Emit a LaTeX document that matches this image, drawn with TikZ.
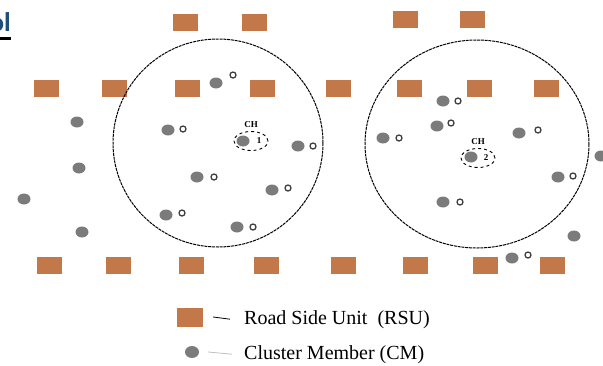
\documentclass[tikz,border=0pt]{standalone}
\usepackage{fontspec}
\setmainfont{Liberation Serif}
\newfontfamily\headfont{Carlito}
\usetikzlibrary{calc, positioning, shapes.geometric}
\definecolor{rsucol}{HTML}{C27849}
\definecolor{membercol}{HTML}{7B7B7B}
\definecolor{headblue}{HTML}{1F4E79}

\tikzset{
  rsu/.style={rectangle, fill=rsucol, minimum width=25pt, minimum height=17pt, inner sep=0pt},
  member/.style={ellipse, fill=membercol, minimum width=13pt, minimum height=11pt, inner sep=0pt},
  tag/.style={circle, draw=black!75, line width=1.3pt, minimum size=6pt, inner sep=0pt},
  cluster/.style={draw, line width=1pt, dash pattern=on 3pt off 0.8pt},
  chring/.style={ellipse, draw, dashed, line width=0.9pt, minimum width=34pt, minimum height=19pt, inner sep=0pt},
  chtext/.style={font=\small\bfseries, inner sep=0pt},
  keytext/.style={font=\fontsize{20}{24}\selectfont, inner sep=0pt, anchor=base west},
}

\begin{document}
\begin{tikzpicture}[x=1pt, y=-1pt]
    \useasboundingbox (0,0) rectangle (603,365);
    % heading fragment
    \node[font=\headfont\bfseries\fontsize{27}{30}\selectfont, text=headblue, anchor=base east, inner sep=0pt] (ol) at (11,31) {ol};
    \draw[line width=3pt] ($(ol.base west)+(0,7)$) -- ($(ol.base east)+(0,7)$);

    % road side units
    \foreach \x/\y [count=\i] in {185/22, 254/22, 405/19, 472/19,
        46/88, 114/88, 187/88, 262/88, 338/88, 409/88, 479/88, 546/88,
        49/265, 118/265, 191/265, 266/265, 343/265, 415/265, 485/265, 552/265}
        \node[rsu] (rsu\i) at (\x,\y) {};

    % clusters
    \draw[cluster] (218,143) ellipse [x radius=105, y radius=104];
    \draw[cluster] (477,144) ellipse [x radius=112, y radius=104];

    % cluster heads
    \node[chring] (ch1) at (251,141) {};
    \node[member] (chdot1) at (243,141) {};
    \node[chtext] (chnum1) at (259,141) {1};
    \node[chtext, above=3pt of ch1] (chlab1) {CH};
    \node[chring] (ch2) at (478,158) {};
    \node[member] (chdot2) at (471,157) {};
    \node[chtext] (chnum2) at (486,158) {2};
    \node[chtext, above=3pt of ch2] (chlab2) {CH};

    % cluster members with their tags
    \foreach \x/\y/\a/\b [count=\i] in {216/83/233/75, 168/130/183/129, 298/146/313/146,
        197/177/214/177, 272/190/288/188, 166/215/182/213, 237/227/253/227,
        443/101/458/101, 437/126/451/123, 383/138/399/138, 519/133/538/130,
        558/177/573/176, 443/202/460/202, 512/258/528/255}
    {
        \node[member] (cm\i) at (\x,\y) {};
        \node[tag] (tag\i) at (\a,\b) {};
    }
    % free vehicles
    \foreach \x/\y [count=\i] in {77/122, 79/168, 24/199, 82/232, 574/236, 601/156}
        \node[member] (fv\i) at (\x,\y) {};

    % legend
    \node[rsu, minimum width=26pt, minimum height=19pt] (keyrsu) at (190,317) {};
    \node[keytext] (keyrsutxt) at (244,324) {Road Side Unit\ \ (RSU)};
    \draw[line width=0.8pt] ($(keyrsu.east)+(10,0)$) -- ($(keyrsutxt.west)+(-14,0)$);
    \node[member, minimum width=14pt, minimum height=12pt] (keycm) at (192,352) {};
    \node[keytext] (keycmtxt) at (244,359) {Cluster Member (CM)};
    \draw[line width=0.8pt, black!25] ($(keycm.east)+(9,0)$) -- ($(keycmtxt.west)+(-12,0)$);
\end{tikzpicture}
\end{document}
